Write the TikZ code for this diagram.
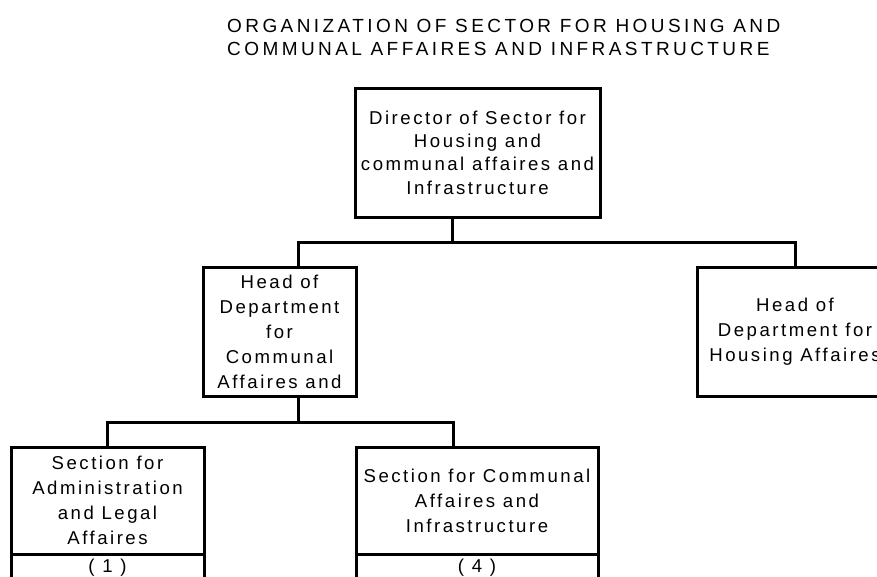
\documentclass[tikz,border=0pt]{standalone}
\usepackage{fontspec}
\setmainfont{Liberation Sans}[LetterSpace=13.5]
\usetikzlibrary{positioning}

\tikzset{
  unit/.style={draw, line width=3pt, outer sep=0pt, inner sep=2pt, align=center,
    font=\fontsize{18.6}{25}\selectfont},
  link/.style={line width=3pt}
}

\begin{document}
\begin{tikzpicture}[x=1pt, y=-1pt]
  % Page frame
  \useasboundingbox (0,0) rectangle (877,576);
  \clip (0,0) rectangle (877,576);

  % Title
  \node[anchor=base west, inner sep=0pt, align=left,
    font=\fontsize{19}{22.5}\selectfont\addfontfeature{LetterSpace=18}] (title) at (227,55)
    {ORGANIZATION OF SECTOR FOR HOUSING AND\\COMMUNAL AFFAIRES AND INFRASTRUCTURE};

  % Boxes
  \node[unit, minimum width=245, minimum height=129, font=\fontsize{18.6}{23.3}\selectfont] (dir) at (477.5,152.5)
    {Director of Sector for\\Housing and\\communal affaires and\\Infrastructure};
  \node[unit, minimum width=153, minimum height=129] (hca) at (279.5,331.5)
    {Head of\\Department\\for\\Communal\\Affaires and};
  \node[unit, minimum width=196, minimum height=129] (hha) at (795,331.5)
    {Head of\\Department for\\Housing Affaires};
  \node[unit, minimum width=193, minimum height=107] (sal) at (107.5,500.5)
    {Section for\\Administration\\and Legal\\Affaires};
  \node[unit, minimum width=193, minimum height=28, below=0pt of sal] (salno) {( 1 )};
  \node[unit, minimum width=242, minimum height=107] (sci) at (477,500.5)
    {Section for Communal\\Affaires and\\Infrastructure};
  \node[unit, minimum width=242, minimum height=28, below=0pt of sci] (scino) {( 4 )};

  % Connectors
  \coordinate (busA) at (298,242);
  \coordinate (busB) at (452,242);
  \coordinate (busC) at (298,422);
  \coordinate (busD) at (453,422);
  \draw[link] (dir.south -| busB) -- (busB);
  \draw[link] (hca.north -| busA) -- (busA) -| (hha.north);
  \draw[link] (hca.south -| busC) -- (busC);
  \draw[link] (sal.north) |- (busD) -- (sci.north -| busD);
\end{tikzpicture}
\end{document}
